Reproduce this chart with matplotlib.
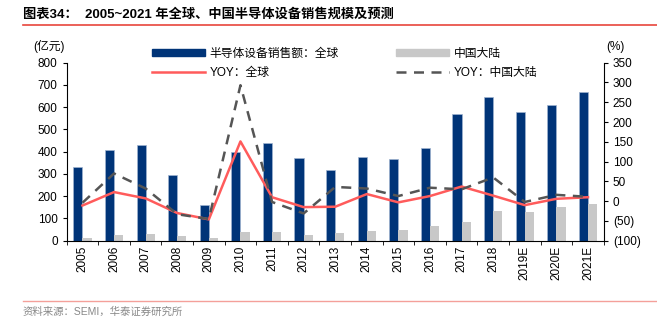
import matplotlib
matplotlib.use("Agg")
import matplotlib.pyplot as plt
import numpy as np
from matplotlib.lines import Line2D

plt.rcParams['font.family'] = ['Liberation Sans', 'Noto Sans CJK SC', 'DejaVu Sans']

years = ["2005", "2006", "2007", "2008", "2009", "2010", "2011", "2012", "2013",
         "2014", "2015", "2016", "2017", "2018", "2019E", "2020E", "2021E"]
global_sales = [330, 406, 429, 297, 159, 400, 438, 370, 319, 376, 367, 415, 568, 647, 578, 610, 670]
china_sales = [13, 24, 30, 20, 11, 38, 38, 26, 35, 44, 49, 66, 84, 132, 129, 151, 165]
yoy_global = [-11, 23, 7, -30, -46, 151, 10, -15, -14, 18, -3, 13, 37, 14, -10, 6, 10]
yoy_china = [-4, 70, 32, -33, -45, 293, -2, -31, 36, 32, 13, 34, 30, 60, -2, 16, 11]

navy = "#003478"
gray = "#c8c8c8"
red = "#ff5b5b"
dgray = "#555555"

fig = plt.figure(figsize=(6.57, 3.21), dpi=100)
ax = fig.add_axes([0.1015, 0.25, 0.8175, 0.5547])
ax2 = ax.twinx()

x = np.arange(len(years))
w = 0.29
ax.bar(x - w / 2, global_sales, w, color=navy, edgecolor="#9fb3d0", linewidth=0.5, zorder=2)
ax.bar(x + w / 2, china_sales, w, color=gray, zorder=2)

ax2.plot(x, yoy_global, color=red, lw=1.8, zorder=3)
ax2.plot(x, yoy_china, color=dgray, lw=1.8, ls=(0, (4, 3)), zorder=3)

ax.set_xlim(-0.5, len(years) - 0.5)
ax.set_ylim(0, 800)
ax.set_yticks(range(0, 801, 100))
ax2.set_ylim(-100, 350)
ax2.set_yticks(range(-100, 351, 50))
ax2.set_yticklabels([f"({-v})" if v < 0 else str(v) for v in range(-100, 351, 50)])

ax.set_xticks(x)
ax.set_xticklabels(years, rotation=90, fontsize=8.5)
ax.set_xticks(np.arange(-0.5, len(years), 1), minor=True)
ax.tick_params(axis='x', which='major', length=0)
ax.tick_params(axis='x', which='minor', length=3, direction='out')
ax.tick_params(axis='y', labelsize=8.5, length=3, direction='out')
ax2.tick_params(axis='y', labelsize=8.5, length=3, direction='out')

for a in (ax, ax2):
    a.spines['top'].set_visible(False)
ax.spines['right'].set_visible(False)
ax2.spines['left'].set_visible(False)
ax2.spines['bottom'].set_visible(False)

fig.text(0.05, 0.855, "(亿元)", fontsize=8.5, ha='left', va='center')
fig.text(0.922, 0.855, "(%)", fontsize=8.5, ha='left', va='center')

handles = [
    plt.Rectangle((0, 0), 1, 1, color=navy),
    Line2D([], [], color=red, lw=1.8),
    plt.Rectangle((0, 0), 1, 1, color=gray),
    Line2D([], [], color=dgray, lw=1.8, ls=(0, (4, 3))),
]
labels = ["半导体设备销售额：全球", "YOY：全球", "中国大陆", "YOY：中国大陆"]
leg = fig.legend(handles, labels, ncol=2, loc='upper left', bbox_to_anchor=(0.215, 0.885),
                 frameon=False, fontsize=8.5, handlelength=4.5, handleheight=0.5,
                 columnspacing=4.8, labelspacing=0.6, handletextpad=0.4)

fig.text(0.035, 0.955, "图表34：  2005~2021 年全球、中国半导体设备销售规模及预测",
         fontsize=9.5, fontweight='bold', ha='left', va='center')
fig.add_artist(Line2D([0.035, 1.0], [0.922, 0.922], color="#e8453c", lw=1.2, transform=fig.transFigure))
fig.add_artist(Line2D([0.035, 1.0], [0.062, 0.062], color="#f4a09a", lw=1.0, transform=fig.transFigure))
fig.text(0.035, 0.028, "资料来源：SEMI，华泰证券研究所", fontsize=7.5, color="#888888", ha='left', va='center')

fig.savefig("out.png", dpi=100)
